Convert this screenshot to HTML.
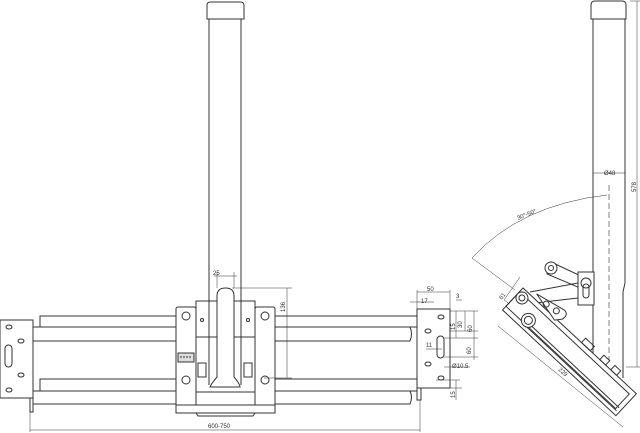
<!DOCTYPE html>
<html><head><meta charset="utf-8"><style>
html,body{margin:0;padding:0;background:#fff;}
svg{display:block;font-family:"Liberation Sans",sans-serif;}
</style></head><body>
<svg width="640" height="433" viewBox="0 0 640 433" xmlns="http://www.w3.org/2000/svg">
<g fill="none" stroke="#333" stroke-width="1">
<!-- left mast -->
<path d="M207,19 V5 Q207,2 211,2 H240 Q244,2 244,5 V19 Z" fill="#fff"/>
<line x1="209" y1="19" x2="209" y2="300"/>
<line x1="241" y1="19" x2="241" y2="300"/>
<!-- rails left -->
<rect x="40" y="316" width="136" height="11"/>
<rect x="33" y="327" width="143" height="14"/>
<rect x="40" y="379" width="136" height="12"/>
<rect x="33" y="391" width="143" height="13"/>
<!-- rails right -->
<rect x="275" y="316" width="142" height="11"/>
<path d="M275,327 H410 Q413,334 410,341 H275"/>
<rect x="275" y="379" width="142" height="12"/>
<path d="M275,391 H410 Q413,397 410,404 H275"/>
<!-- left plate -->
<rect x="0" y="320" width="33" height="78" fill="#fff"/>
<rect x="30" y="398" width="3" height="14"/>
<rect x="5" y="345" width="7" height="22" rx="3.5"/>
<ellipse cx="9" cy="327" rx="3" ry="2"/><ellipse cx="21" cy="341" rx="3" ry="2"/>
<ellipse cx="21" cy="375" rx="3" ry="2"/><ellipse cx="9" cy="390" rx="3" ry="2"/>
<!-- right plate -->
<rect x="417" y="309" width="33" height="79" fill="#fff"/>
<rect x="417" y="388" width="4" height="12"/>
<rect x="437" y="336" width="7" height="22" rx="3.5"/>
<ellipse cx="441" cy="317" rx="3" ry="2"/><ellipse cx="428" cy="331" rx="3" ry="2"/>
<ellipse cx="428" cy="364" rx="3" ry="2"/><ellipse cx="441" cy="378" rx="3" ry="2"/>
<!-- center clamp -->
<rect x="176" y="307" width="20" height="100" rx="2" fill="#fff"/>
<rect x="255" y="307" width="20" height="100" rx="2" fill="#fff"/>
<rect x="196" y="301" width="59" height="104" fill="#fff"/>
<line x1="196" y1="337" x2="255" y2="337"/>
<line x1="196" y1="392" x2="255" y2="392"/>
<path d="M176,405 H275 V413 H176 Z" fill="#fff"/>
<path d="M196,413 L198,416 H253 L255,413"/>
<line x1="209" y1="300" x2="209" y2="385"/>
<line x1="241" y1="300" x2="241" y2="385"/>
<path d="M217,377 V296 Q217,288 225.5,288 Q234,288 234,296 V377 Q240,384 240,387 H210 Q211,384 217,377 Z" fill="#fff"/>
<circle cx="186" cy="316" r="4"/><circle cx="265" cy="316" r="4"/>
<circle cx="186" cy="380" r="4"/><circle cx="265" cy="380" r="4"/>
<circle cx="202" cy="320" r="1.5"/><circle cx="248" cy="320" r="1.5"/>
<rect x="178" y="353" width="16" height="9" fill="#ddd"/>
<line x1="180" y1="357" x2="192" y2="357" stroke-dasharray="2,1"/>
<rect x="198" y="363" width="8" height="14"/><rect x="244" y="363" width="8" height="14"/>
<!-- dimensions left -->
<g stroke-width="0.5">
<line x1="30" y1="412" x2="30" y2="432"/><line x1="420" y1="400" x2="420" y2="432"/>
<line x1="30" y1="430" x2="420" y2="430"/>
<line x1="232" y1="288" x2="292" y2="288"/><line x1="264" y1="378" x2="292" y2="378"/>
<line x1="287" y1="288" x2="287" y2="378"/>
<line x1="217" y1="272" x2="217" y2="288"/><line x1="234" y1="272" x2="234" y2="288"/>
<line x1="214" y1="276" x2="237" y2="276"/>
<!-- right plate dims -->
<line x1="417" y1="292" x2="450" y2="292"/><line x1="417" y1="290" x2="417" y2="309"/>
<line x1="450" y1="290" x2="450" y2="309"/>
<line x1="410" y1="302" x2="434" y2="302"/><line x1="456" y1="300" x2="462" y2="300"/>
<line x1="450" y1="311" x2="478" y2="311"/><line x1="450" y1="331" x2="478" y2="331"/>
<line x1="444" y1="338" x2="478" y2="338"/><line x1="444" y1="357" x2="478" y2="357"/>
<line x1="456" y1="311" x2="456" y2="338"/><line x1="465" y1="311" x2="465" y2="331"/>
<line x1="474" y1="311" x2="474" y2="338"/><line x1="474" y1="338" x2="474" y2="360"/>
<line x1="426" y1="349" x2="442" y2="349"/>
<line x1="444" y1="367" x2="470" y2="367"/><line x1="436" y1="380" x2="460" y2="380"/>
<line x1="456" y1="380" x2="456" y2="400"/><line x1="450" y1="388" x2="462" y2="388"/>
</g>
<!-- right view mast -->
<path d="M591,19 V5 Q591,1 595,1 H622 Q626,1 626,5 V19 Z" fill="#fff"/>
<line x1="593" y1="19" x2="593" y2="355"/>
<path d="M625,19 V283 L623,292 V378"/>
<line x1="609" y1="185" x2="609" y2="360" stroke-dasharray="6,3" stroke-width="0.6"/>
<g stroke-width="0.5">
<line x1="630" y1="1" x2="640" y2="1"/><line x1="637" y1="1" x2="637" y2="367"/>
<line x1="626" y1="367" x2="640" y2="367"/>
<line x1="593" y1="173" x2="625" y2="173"/>
<path d="M472,258 Q520,205 607,195"/>
<line x1="472" y1="258" x2="515" y2="290"/>
<line x1="520" y1="277" x2="504" y2="300"/><line x1="504" y1="300" x2="515" y2="308"/>
<line x1="498" y1="326" x2="623" y2="427"/>
</g>
<!-- link arm -->
<path d="M551,262 L583,277 L580,288 L547,274 Z" fill="#fff"/>
<circle cx="551" cy="268" r="6" fill="#fff"/><circle cx="551" cy="268" r="2.5"/>
<path d="M578,272 H594 V305 H578 Z" fill="#fff"/>
<circle cx="586" cy="283" r="5"/><rect x="583" y="284" width="6" height="14" rx="3"/>
<line x1="530" y1="292" x2="578" y2="283"/><line x1="535" y1="303" x2="578" y2="298"/>
<!-- tilted arm -->
<g transform="translate(523,288) rotate(43)">
<rect x="0" y="0" width="155" height="30" fill="#fff"/>
<rect x="0" y="5" width="150" height="20"/>
<line x1="25" y1="22" x2="152" y2="22"/>
<line x1="25" y1="26" x2="152" y2="26"/>
<circle cx="6" cy="8" r="6" fill="#fff"/><circle cx="6" cy="8" r="3"/>
<circle cx="26" cy="20" r="7" fill="#fff"/><circle cx="26" cy="20" r="4"/>
<path d="M14,-5 L45,-12 Q52,-12 50,-4 L45,2 Z" fill="#fff"/>
<circle cx="28" cy="-4" r="3"/><circle cx="40" cy="-6" r="3"/>
<rect x="80" y="-6" width="12" height="6"/><rect x="105" y="-6" width="8" height="6"/><rect x="120" y="-6" width="8" height="6"/>
</g>
</g>
<g font-size="6" fill="#333">
<text x="213" y="275">25</text>
<text x="285" y="312" transform="rotate(-90 285 312)">136</text>
<text x="208" y="428">600-750</text>
<text x="427" y="291">50</text><text x="421" y="303">17</text><text x="456" y="298">3</text>
<text x="462" y="328" transform="rotate(-90 462 328)">30</text>
<text x="472" y="332" transform="rotate(-90 472 332)">60</text>
<text x="455" y="330" transform="rotate(-90 455 330)">15</text>
<text x="471" y="354" transform="rotate(-90 471 354)">60</text>
<text x="426" y="347">11</text><text x="452" y="368">Ø10.5</text>
<text x="455" y="398" transform="rotate(-90 455 398)">15</text>
<text x="604" y="175">Ø48</text>
<text x="636" y="192" transform="rotate(-90 636 192)">578</text>
<text x="518" y="220" transform="rotate(-22 518 220)">30°-50°</text>
<text x="502" y="300" transform="rotate(-55 502 300)">61</text>
<text x="558" y="370" transform="rotate(43 558 370)">229</text>
</g>
</svg>
</body></html>
